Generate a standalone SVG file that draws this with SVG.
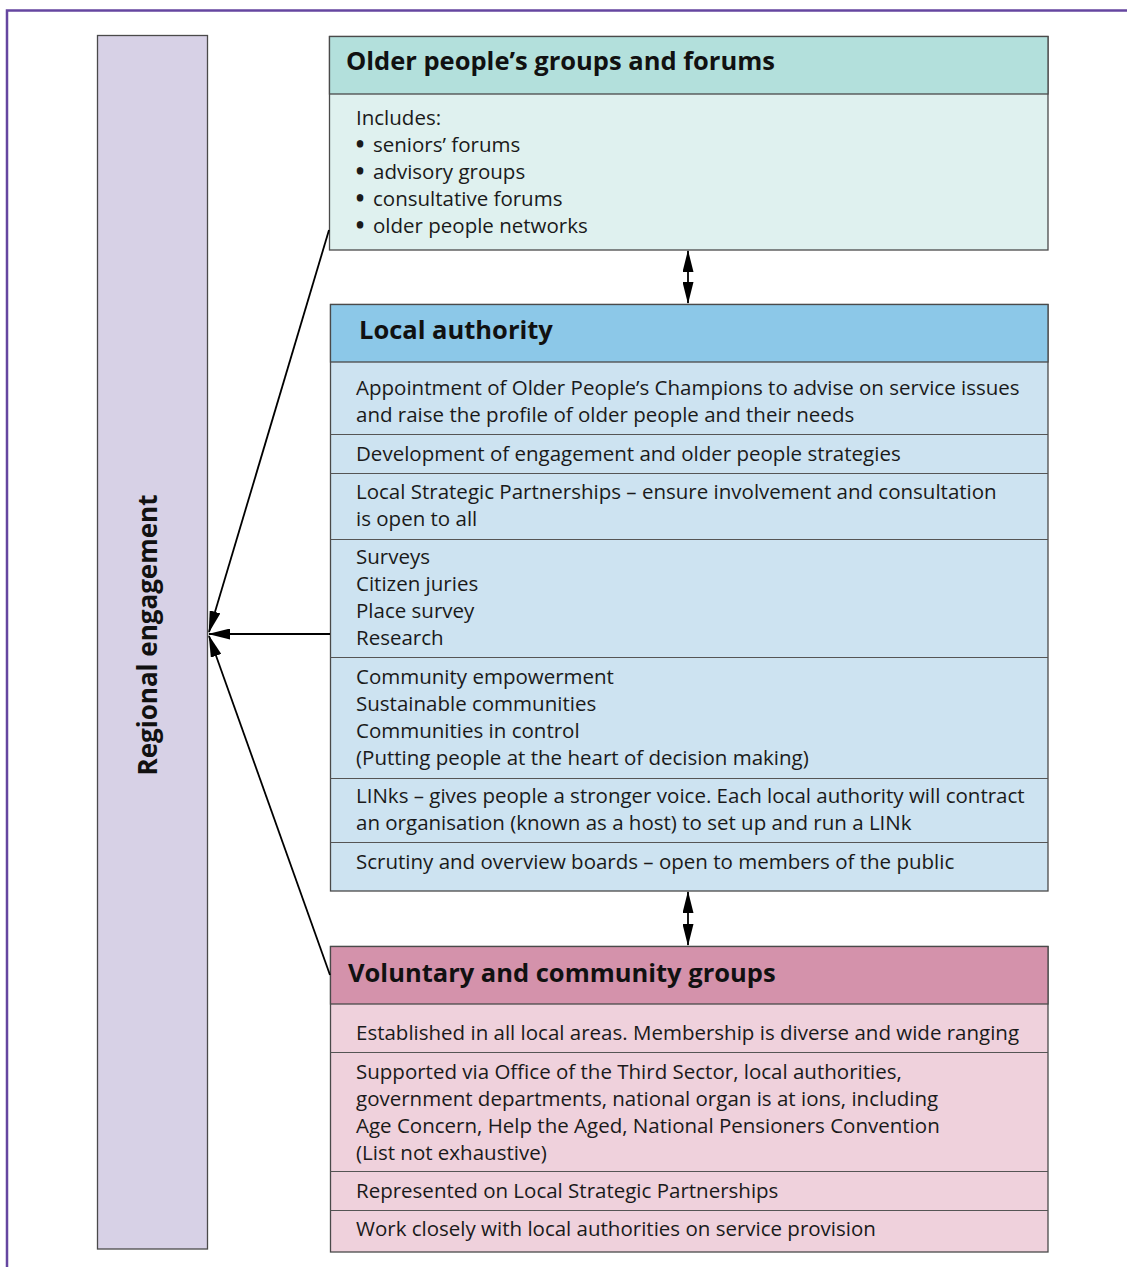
<svg xmlns="http://www.w3.org/2000/svg" width="1127" height="1267" viewBox="0 0 1127 1267">
<style>
.frame{fill:none;stroke:#6546a0;stroke-width:2.5}
.box{stroke:#4a4a4a;stroke-width:1.3}
.div{stroke:#555;stroke-width:1.2;fill:none}
.h{font-family:"Open Sans","Noto Sans",sans-serif;font-weight:700;font-size:25.5px;fill:#111}
.t{font-family:"Open Sans","Noto Sans",sans-serif;font-weight:400;font-size:20.5px;fill:#1a1a1a}
.b{font-weight:800}
.con{stroke:#000;stroke-width:1.8;fill:none}
</style>
<defs>
<marker id="ah" viewBox="0 0 22 11" refX="21" refY="5.5" markerWidth="22" markerHeight="11" markerUnits="userSpaceOnUse" orient="auto-start-reverse"><path d="M0,0 L22,5.5 L0,11 z" fill="#000"/></marker>
</defs>
<rect width="1127" height="1267" fill="#fff"/>
<path class="frame" d="M7,1267 V10.5 H1127"/>

<g id="regional">
<rect class="box" x="97.5" y="35.5" width="110" height="1213.5" fill="#d7d1e6"/>
<text class="h" transform="translate(157,635) rotate(-90)" text-anchor="middle" style="font-size:26px">Regional engagement</text>
</g>

<g id="older-groups">
<rect class="box" x="329.5" y="36.5" width="718.5" height="213.5" fill="#dff1ef"/>
<rect class="box" x="329.5" y="36.5" width="718.5" height="57.5" fill="#b3e0dc"/>
<text class="h" x="346" y="70">Older people’s groups and forums</text>
<text class="t" x="356" y="125">Includes:</text>
<text class="t" x="356" y="152"><tspan class="b">•</tspan><tspan x="373">seniors’ forums</tspan></text>
<text class="t" x="356" y="179"><tspan class="b">•</tspan><tspan x="373">advisory groups</tspan></text>
<text class="t" x="356" y="206"><tspan class="b">•</tspan><tspan x="373">consultative forums</tspan></text>
<text class="t" x="356" y="233"><tspan class="b">•</tspan><tspan x="373">older people networks</tspan></text>
</g>

<g id="local-authority">
<rect class="box" x="330.5" y="304.5" width="717.5" height="586.5" fill="#cde3f1"/>
<rect class="box" x="330.5" y="304.5" width="717.5" height="57.5" fill="#8cc8e8"/>
<path class="div" d="M330.5,434.5 H1048 M330.5,473.5 H1048 M330.5,539.5 H1048 M330.5,657.5 H1048 M330.5,778.5 H1048 M330.5,842.5 H1048"/>
<text class="h" x="359" y="339">Local authority</text>
<text class="t" x="356" y="395">Appointment of Older People’s Champions to advise on service issues</text>
<text class="t" x="356" y="422">and raise the profile of older people and their needs</text>
<text class="t" x="356" y="461">Development of engagement and older people strategies</text>
<text class="t" x="356" y="499">Local Strategic Partnerships – ensure involvement and consultation</text>
<text class="t" x="356" y="526">is open to all</text>
<text class="t" x="356" y="564">Surveys</text>
<text class="t" x="356" y="591">Citizen juries</text>
<text class="t" x="356" y="618">Place survey</text>
<text class="t" x="356" y="645">Research</text>
<text class="t" x="356" y="684">Community empowerment</text>
<text class="t" x="356" y="711">Sustainable communities</text>
<text class="t" x="356" y="738">Communities in control</text>
<text class="t" x="356" y="765">(Putting people at the heart of decision making)</text>
<text class="t" x="356" y="803">LINks – gives people a stronger voice. Each local authority will contract</text>
<text class="t" x="356" y="830">an organisation (known as a host) to set up and run a LINk</text>
<text class="t" x="356" y="869">Scrutiny and overview boards – open to members of the public</text>
</g>

<g id="voluntary">
<rect class="box" x="330.5" y="946.5" width="717.5" height="305.5" fill="#efd1dc"/>
<rect class="box" x="330.5" y="946.5" width="717.5" height="57.5" fill="#d492ab"/>
<path class="div" d="M330.5,1052.5 H1048 M330.5,1171.5 H1048 M330.5,1210.5 H1048"/>
<text class="h" x="348" y="982">Voluntary and community groups</text>
<text class="t" x="356" y="1040">Established in all local areas. Membership is diverse and wide ranging</text>
<text class="t" x="356" y="1079">Supported via Office of the Third Sector, local authorities,</text>
<text class="t" x="356" y="1106">government departments, national organ is at ions, including</text>
<text class="t" x="356" y="1133">Age Concern, Help the Aged, National Pensioners Convention</text>
<text class="t" x="356" y="1160">(List not exhaustive)</text>
<text class="t" x="356" y="1198">Represented on Local Strategic Partnerships</text>
<text class="t" x="356" y="1236">Work closely with local authorities on service provision</text>
</g>

<g id="connectors">
<line class="con" x1="329" y1="230" x2="209" y2="632" marker-end="url(#ah)"/>
<line class="con" x1="330" y1="634" x2="209" y2="634" marker-end="url(#ah)"/>
<line class="con" x1="330" y1="975" x2="209" y2="636" marker-end="url(#ah)"/>
<line class="con" x1="688" y1="251" x2="688" y2="303" marker-start="url(#ah)" marker-end="url(#ah)"/>
<line class="con" x1="688" y1="892" x2="688" y2="945" marker-start="url(#ah)" marker-end="url(#ah)"/>
</g>
</svg>
